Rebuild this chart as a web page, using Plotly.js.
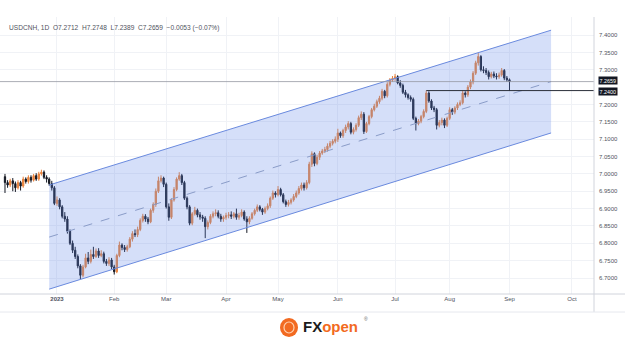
<!DOCTYPE html>
<html><head><meta charset="utf-8">
<script src="https://cdn.plot.ly/plotly-3.0.1.min.js"></script>
<style>html,body{margin:0;padding:0;background:#fff}#chart{width:625px;height:343px}</style>
</head><body><div id="chart"></div>
<script>
// ---- data (USDCNH daily) ----
const firstDate = '2022-12-05';
const openP = [6.992,6.975,6.968,6.980,6.972,6.960,6.975,6.965,6.985,6.978,
6.990,6.982,6.995,6.985,7.000,7.005,6.990,6.985,6.972,6.960,
6.915,6.925,6.905,6.878,6.870,6.835,6.800,6.780,6.762,6.735,
6.708,6.732,6.758,6.748,6.768,6.762,6.778,6.765,6.770,6.748,
6.742,6.752,6.732,6.718,6.765,6.795,6.788,6.782,6.790,6.812,
6.828,6.825,6.840,6.866,6.878,6.870,6.862,6.895,6.912,6.950,
6.980,6.988,6.970,6.905,6.875,6.925,6.955,6.985,6.995,6.975,
6.930,6.905,6.858,6.885,6.895,6.882,6.876,6.872,6.848,6.860,
6.878,6.885,6.888,6.878,6.870,6.875,6.880,6.882,6.878,6.885,
6.875,6.880,6.890,6.870,6.862,6.872,6.885,6.895,6.905,6.898,
6.890,6.900,6.908,6.930,6.945,6.940,6.955,6.940,6.920,6.912,
6.918,6.925,6.935,6.945,6.958,6.968,6.960,6.975,7.028,7.058,
7.030,7.048,7.060,7.066,7.070,7.080,7.088,7.094,7.100,7.118,
7.110,7.125,7.135,7.145,7.120,7.128,7.140,7.162,7.172,7.122,
7.145,7.165,7.185,7.195,7.208,7.218,7.238,7.225,7.258,7.270,
7.275,7.280,7.262,7.255,7.235,7.228,7.220,7.215,7.160,7.145,
7.152,7.165,7.180,7.233,7.210,7.190,7.185,7.140,7.148,7.155,
7.140,7.160,7.185,7.178,7.190,7.200,7.205,7.233,7.228,7.250,
7.265,7.290,7.320,7.338,7.300,7.298,7.292,7.280,7.288,7.282,
7.280,7.285,7.298,7.276,7.2712];
const highP = [7.000,6.982,6.986,6.988,6.978,6.982,6.980,6.992,6.990,6.996,
6.996,7.000,7.002,7.006,7.012,7.010,6.996,6.990,6.980,6.965,
6.935,6.930,6.910,6.890,6.878,6.840,6.808,6.790,6.768,6.740,
6.738,6.770,6.775,6.782,6.790,6.785,6.786,6.780,6.776,6.755,
6.760,6.758,6.738,6.770,6.805,6.800,6.795,6.796,6.818,6.835,
6.840,6.848,6.872,6.885,6.884,6.876,6.900,6.918,6.958,6.992,
6.996,6.992,6.975,6.915,6.930,6.962,6.990,7.005,7.000,6.980,
6.935,6.910,6.890,6.905,6.900,6.890,6.882,6.878,6.866,6.884,
6.892,6.898,6.895,6.885,6.880,6.888,6.890,6.892,6.890,6.900,
6.888,6.898,6.895,6.878,6.878,6.890,6.900,6.912,6.910,6.902,
6.906,6.915,6.935,6.952,6.950,6.965,6.960,6.945,6.926,6.925,
6.930,6.942,6.952,6.965,6.975,6.975,6.982,7.035,7.065,7.062,
7.055,7.066,7.072,7.078,7.088,7.095,7.100,7.108,7.130,7.122,
7.130,7.142,7.152,7.150,7.134,7.146,7.168,7.180,7.178,7.150,
7.170,7.190,7.202,7.214,7.225,7.245,7.242,7.264,7.276,7.282,
7.288,7.284,7.270,7.260,7.242,7.232,7.226,7.220,7.165,7.158,
7.170,7.186,7.240,7.238,7.215,7.196,7.190,7.155,7.162,7.160,
7.165,7.192,7.190,7.195,7.206,7.212,7.240,7.238,7.256,7.272,
7.296,7.326,7.348,7.342,7.310,7.305,7.298,7.294,7.295,7.290,
7.292,7.305,7.302,7.282,7.2748];
const lowP = [6.945,6.960,6.962,6.950,6.948,6.955,6.952,6.960,6.972,6.972,
6.975,6.978,6.980,6.980,6.995,6.985,6.975,6.966,6.952,6.910,
6.908,6.898,6.872,6.862,6.828,6.795,6.772,6.755,6.728,6.697,
6.702,6.728,6.740,6.742,6.755,6.758,6.758,6.760,6.742,6.735,
6.735,6.726,6.710,6.714,6.760,6.780,6.775,6.776,6.786,6.805,
6.818,6.818,6.835,6.860,6.862,6.855,6.858,6.888,6.905,6.945,
6.975,6.962,6.900,6.865,6.870,6.920,6.950,6.980,6.968,6.925,
6.898,6.852,6.852,6.880,6.875,6.868,6.862,6.815,6.840,6.855,
6.872,6.878,6.872,6.862,6.862,6.868,6.872,6.870,6.872,6.868,
6.868,6.875,6.865,6.830,6.855,6.868,6.880,6.890,6.892,6.882,
6.885,6.895,6.902,6.925,6.932,6.935,6.935,6.915,6.905,6.906,
6.912,6.920,6.930,6.940,6.952,6.952,6.955,6.970,7.020,7.022,
7.025,7.040,7.055,7.060,7.064,7.074,7.082,7.088,7.092,7.104,
7.104,7.118,7.128,7.114,7.114,7.122,7.135,7.155,7.115,7.118,
7.140,7.160,7.180,7.190,7.202,7.212,7.218,7.220,7.252,7.265,
7.268,7.258,7.248,7.230,7.220,7.214,7.208,7.155,7.125,7.140,
7.146,7.160,7.175,7.205,7.184,7.178,7.128,7.134,7.140,7.132,
7.135,7.155,7.170,7.172,7.184,7.195,7.200,7.220,7.222,7.244,
7.258,7.285,7.312,7.295,7.290,7.285,7.272,7.275,7.276,7.272,
7.274,7.280,7.270,7.265,7.2389];
const closeP = [6.975,6.968,6.980,6.972,6.960,6.975,6.965,6.985,6.978,6.990,
6.982,6.995,6.985,7.000,7.005,6.990,6.985,6.972,6.960,6.915,
6.925,6.905,6.878,6.870,6.835,6.800,6.780,6.762,6.735,6.708,
6.732,6.758,6.748,6.768,6.762,6.778,6.765,6.770,6.748,6.742,
6.752,6.732,6.718,6.765,6.795,6.788,6.782,6.790,6.812,6.828,
6.825,6.840,6.866,6.878,6.870,6.862,6.895,6.912,6.950,6.980,
6.988,6.970,6.905,6.875,6.925,6.955,6.985,6.995,6.975,6.930,
6.905,6.858,6.885,6.895,6.882,6.876,6.872,6.848,6.860,6.878,
6.885,6.888,6.878,6.870,6.875,6.880,6.882,6.878,6.885,6.875,
6.880,6.890,6.870,6.862,6.872,6.885,6.895,6.905,6.898,6.890,
6.900,6.908,6.930,6.945,6.940,6.955,6.940,6.920,6.912,6.918,
6.925,6.935,6.945,6.958,6.968,6.960,6.975,7.028,7.058,7.030,
7.048,7.060,7.066,7.070,7.080,7.088,7.094,7.100,7.118,7.110,
7.125,7.135,7.145,7.120,7.128,7.140,7.162,7.172,7.122,7.145,
7.165,7.185,7.195,7.208,7.218,7.238,7.225,7.258,7.270,7.275,
7.280,7.262,7.255,7.235,7.228,7.220,7.215,7.160,7.145,7.152,
7.165,7.180,7.233,7.210,7.190,7.185,7.140,7.148,7.155,7.140,
7.160,7.185,7.178,7.190,7.200,7.205,7.233,7.228,7.250,7.265,
7.290,7.320,7.338,7.300,7.298,7.292,7.280,7.288,7.282,7.280,
7.285,7.298,7.276,7.2712,7.2659];

// channel drawing (parallel channel)
const channelDates = ['2022-12-28', '2023-09-25'];
const channelUpper = [6.968, 7.414];
const channelLower = [6.668, 7.118];
const channelMid = [6.818, 7.266];

// horizontal levels
const lastPrice = 7.2659;
const levelPrice = 7.2400;
const levelStart = '2023-07-19';

// axis ticks (7.2500 is hidden behind the price labels in the reference)
const monthTickDates = ['2023-01-02','2023-02-01','2023-03-01','2023-04-03','2023-05-01','2023-06-01','2023-07-03','2023-08-01','2023-09-01','2023-10-05'];
const monthTickText = ['<b>2023</b>','Feb','Mar','Apr','May','Jun','Jul','Aug','Sep','Oct'];
const priceTicks = [6.70,6.75,6.80,6.85,6.90,6.95,7.00,7.05,7.10,7.15,7.20,7.30,7.35,7.40];

const headerText = 'USDCNH, 1D  O7.2712  H7.2748  L7.2389  C7.2659  \u22120.0053 (\u22120.07%)';

// ---- helpers ----
function weekdays(start, n) {
  const out = [];
  const d = new Date(start + 'T00:00:00Z');
  while (out.length < n) {
    const w = d.getUTCDay();
    if (w !== 0 && w !== 6) out.push(d.toISOString().slice(0, 10));
    d.setUTCDate(d.getUTCDate() + 1);
  }
  return out;
}
const dates = weekdays(firstDate, closeP.length);

const W = 625, H = 343, ML = 0, MR = 31, MT = 17, MB = 49;
const PW = W - ML - MR, PH = H - MT - MB;
const px = x => (x - ML) / PW;
const py = y => (H - MB - y) / PH;

const xRange = ['2022-12-01 02:00', '2023-10-17 12:00'];
const FONT = 'Liberation Sans, Arial, sans-serif';

const traces = [
  { type: 'scatter', mode: 'lines', hoverinfo: 'skip',
    x: [channelDates[0], channelDates[1], channelDates[1], channelDates[0], channelDates[0]],
    y: [channelUpper[0], channelUpper[1], channelLower[1], channelLower[0], channelUpper[0]],
    fill: 'toself', fillcolor: 'rgba(105,140,232,0.28)', line: { width: 0 } },
  { type: 'scatter', mode: 'lines', x: channelDates, y: channelUpper, line: { color: '#6a8ade', width: 1 } },
  { type: 'scatter', mode: 'lines', x: channelDates, y: channelLower, line: { color: '#6a8ade', width: 1 } },
  { type: 'scatter', mode: 'lines', x: channelDates, y: channelMid, line: { color: '#8a9cc8', width: 1, dash: 'dash' } },
  { type: 'candlestick', x: dates, open: openP, high: highP, low: lowP, close: closeP,
    whiskerwidth: 0,
    increasing: { line: { color: '#e9823b', width: 1 }, fillcolor: '#e9823b' },
    decreasing: { line: { color: '#131722', width: 1 }, fillcolor: '#131722' } }
];

const shapes = [
  { type: 'line', xref: 'paper', yref: 'y', x0: 0, x1: 1, y0: lastPrice, y1: lastPrice,
    line: { color: '#9598a1', width: 0.8 } },
  { type: 'line', xref: 'x', yref: 'y', x0: levelStart, x1: xRange[1], y0: levelPrice, y1: levelPrice,
    line: { color: '#2a2e39', width: 1 } },
  { type: 'line', xref: 'paper', yref: 'paper', x0: 0, x1: px(W), y0: 0, y1: 0, line: { color: '#d1d4dc', width: 1 } },
  { type: 'line', xref: 'paper', yref: 'paper', x0: 1, x1: 1, y0: py(312), y1: 1, line: { color: '#d1d4dc', width: 1 } },
  { type: 'line', xref: 'paper', yref: 'paper', x0: 0, x1: px(W), y0: py(312), y1: py(312), line: { color: '#e6e8ee', width: 1 } },
  { type: 'circle', xref: 'paper', yref: 'paper', x0: px(280), x1: px(298), y0: py(337), y1: py(318),
    fillcolor: '#f26a21', line: { width: 0 } },
  { type: 'circle', xref: 'paper', yref: 'paper', x0: px(284), x1: px(294), y0: py(333), y1: py(322),
    fillcolor: 'rgba(0,0,0,0)', line: { color: '#ffd2b0', width: 1.2 } }
];

const annotations = [
  { xref: 'paper', yref: 'paper', x: px(7), y: py(28), xanchor: 'left', yanchor: 'middle', showarrow: false,
    text: headerText, font: { family: FONT, size: 6.6, color: '#50535e' } },
  { xref: 'paper', yref: 'y', x: 1, xshift: 4, y: lastPrice, yshift: 1, xanchor: 'left', yanchor: 'middle', showarrow: false,
    text: '7.2659', bgcolor: '#131722', borderpad: 0.5, font: { family: FONT, size: 5.4, color: '#ffffff' } },
  { xref: 'paper', yref: 'y', x: 1, xshift: 4, y: levelPrice, yshift: -1, xanchor: 'left', yanchor: 'middle', showarrow: false,
    text: '7.2400', bgcolor: '#131722', borderpad: 0.5, font: { family: FONT, size: 5.4, color: '#ffffff' } },
  { xref: 'paper', yref: 'paper', x: px(301), y: py(326), xanchor: 'left', yanchor: 'middle', showarrow: false,
    text: '<b><span style="color:#1b1b1b">FX</span><span style="color:#f26a21">open</span></b>',
    font: { family: FONT, size: 15 } },
  { xref: 'paper', yref: 'paper', x: px(362), y: py(319), xanchor: 'left', yanchor: 'middle', showarrow: false,
    text: '\u00ae', font: { family: FONT, size: 5, color: '#666' } }
];

const layout = {
  width: W, height: H,
  margin: { l: ML, r: MR, t: MT, b: MB, pad: 0 },
  paper_bgcolor: '#ffffff', plot_bgcolor: '#ffffff',
  showlegend: false, hovermode: false,
  font: { family: FONT, size: 6, color: '#50535e' },
  xaxis: {
    type: 'date', range: xRange, rangebreaks: [{ bounds: ['sat', 'mon'] }],
    rangeslider: { visible: false },
    tickmode: 'array', tickvals: monthTickDates, ticktext: monthTickText,
    showgrid: true, gridcolor: '#f0f2f6', gridwidth: 1,
    showline: false, zeroline: false, ticks: '',
    tickfont: { family: FONT, size: 6, color: '#50535e' }
  },
  yaxis: {
    side: 'right', range: [6.654, 7.452],
    tickmode: 'array', tickvals: priceTicks, tickformat: '.4f',
    showgrid: true, gridcolor: '#f0f2f6', gridwidth: 1,
    showline: false, zeroline: false, ticks: '', ticklabelstandoff: 4,
    tickfont: { family: FONT, size: 6, color: '#50535e' }
  },
  shapes: shapes,
  annotations: annotations
};

Plotly.newPlot('chart', traces, layout, { staticPlot: true, displayModeBar: false });
</script>
</body></html>
